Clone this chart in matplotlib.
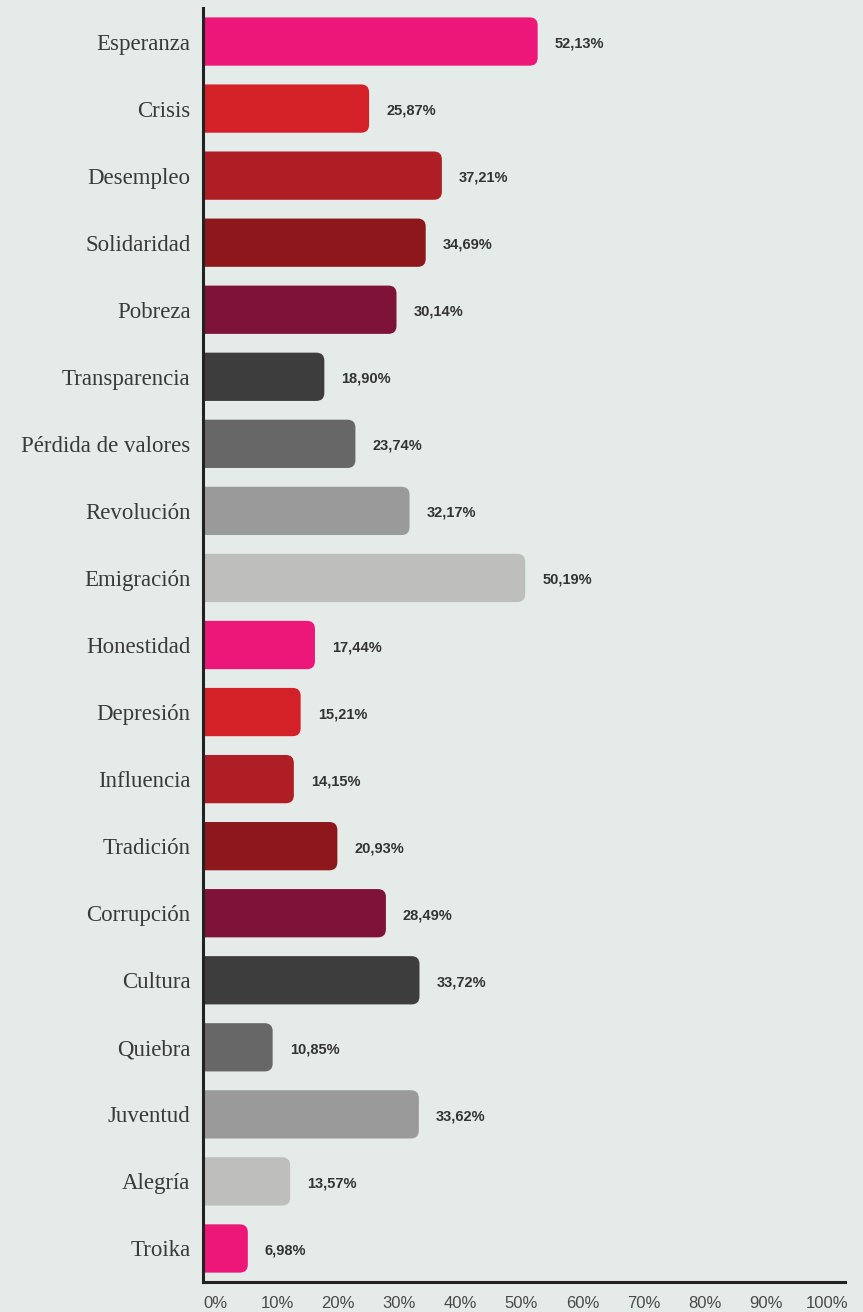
import matplotlib.pyplot as plt
from matplotlib.patches import FancyBboxPatch

categories = ["Esperanza", "Crisis", "Desempleo", "Solidaridad", "Pobreza",
              "Transparencia", "Pérdida de valores", "Revolución", "Emigración",
              "Honestidad", "Depresión", "Influencia", "Tradición", "Corrupción",
              "Cultura", "Quiebra", "Juventud", "Alegría", "Troika"]
values = [52.13, 25.87, 37.21, 34.69, 30.14, 18.90, 23.74, 32.17, 50.19,
          17.44, 15.21, 14.15, 20.93, 28.49, 33.72, 10.85, 33.62, 13.57, 6.98]
palette = ["#ED1679", "#D42027", "#AF1E24", "#8D171B", "#7E1238",
           "#3D3D3D", "#676767", "#9A9A9A", "#BEBEBC"]
tick_values = [0, 10, 20, 30, 40, 50, 60, 70, 80, 90, 100]

BG = "#E5EBE8"
W, H = 863, 1312
fig = plt.figure(figsize=(W / 100, H / 100), dpi=100, facecolor=BG)
ax = fig.add_axes([203 / W, 30 / H, (845 - 203) / W, (1282 - 8) / H])
ax.set_facecolor(BG)

n = len(categories)
ax.set_xlim(0, 100)
ax.set_ylim(n - 0.5, -0.5)

bar_h = 0.72
# px per data unit, used so the rounded corners look circular
px_x = (845 - 203) / 100
px_y = (1282 - 8) / n
r_px = 8
for i, (v, c) in enumerate(zip(values, [palette[k % len(palette)] for k in range(n)])):
    box = FancyBboxPatch((-3, i - bar_h / 2), v + 3, bar_h,
                         boxstyle=f"round,pad=0,rounding_size={r_px / px_x}",
                         mutation_aspect=px_x / px_y,
                         facecolor=c, edgecolor="none", clip_on=True)
    ax.add_patch(box)
    ax.text(v + 17 / px_x, i + 0.03, f"{v:.2f}%".replace(".", ","),
            ha="left", va="center", fontsize=10.5, color="#333333",
            family="Liberation Sans", fontweight="bold")

ax.set_yticks(range(n))
ax.set_yticklabels(categories, family="Liberation Serif", fontsize=16.5,
                   color="#3a3a3a")
ax.tick_params(axis="y", length=0, pad=9)

# tick labels sit slightly offset from the data positions in the original
ax.set_xticks([2 + t * 0.952 for t in tick_values])
ax.set_xticklabels([f"{t}%" for t in tick_values], family="Liberation Sans",
                   fontsize=12, color="#4a4a4a")
ax.tick_params(axis="x", length=0, pad=10)

for s in ("top", "right"):
    ax.spines[s].set_visible(False)
for s in ("left", "bottom"):
    ax.spines[s].set_linewidth(2.2)
    ax.spines[s].set_color("#222222")

fig.savefig("out.png", dpi=100, facecolor=BG)
